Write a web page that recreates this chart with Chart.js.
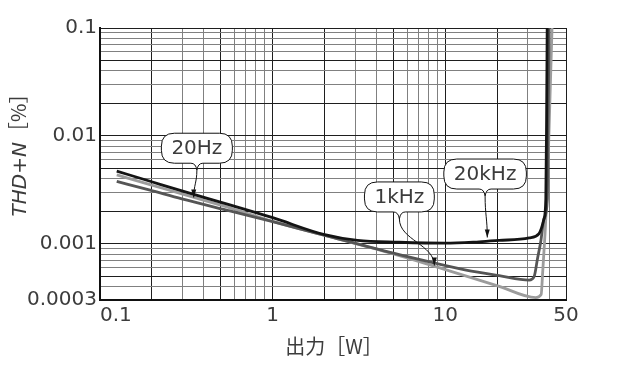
<!DOCTYPE html>
<html lang="ja">
<head>
<meta charset="UTF-8">
<title>THD+N vs 出力</title>
<script src="https://cdn.jsdelivr.net/npm/chart.js"></script>
<style>
  html, body { margin: 0; padding: 0; background: #fff; }
  #wrap { width: 619px; height: 366px; position: relative; }
</style>
</head>
<body>
<div id="wrap"><canvas id="thd"></canvas></div>
<script>
// 出力 [W] と THD+N [%]
const power20k = [0.125, 0.195, 0.298, 0.565, 1.0, 2.0, 3.1, 5.4, 10, 15.7, 20.5, 30.6, 34.9, 37.3, 38.2, 38.6, 38.9];
const thd20k   = [0.00471, 0.00379, 0.00308, 0.00229, 0.00174, 0.00121, 0.00107, 0.00103, 0.00101, 0.00104, 0.00107, 0.00113, 0.00124, 0.0017, 0.0026, 0.0142, 0.1];

const power1k = [0.125, 0.195, 0.298, 0.565, 1.0, 2.14, 5.41, 8.41, 13.2, 20.5, 30.6, 32.7, 34.2, 35.7, 37.3, 39.0, 39.4, 39.9];
const thd1k   = [0.00378, 0.00313, 0.0026, 0.00201, 0.0016, 0.00116, 0.00079, 0.000668, 0.000567, 0.000504, 0.000459, 0.000496, 0.000727, 0.00104, 0.0017, 0.0026, 0.0142, 0.1];

const power20 = [0.125, 0.195, 0.298, 0.565, 1.0, 2.14, 5.41, 10, 20.5, 33.4, 35.9, 36.6, 37.8, 39.1, 40.2, 41.5];
const thd20   = [0.00435, 0.00353, 0.00289, 0.00215, 0.00161, 0.00116, 0.000775, 0.000574, 0.000402, 0.000316, 0.000337, 0.000529, 0.00124, 0.00397, 0.01755, 0.1];

// grid lines and labelled ticks
const xTicks = [0.1, 0.2, 0.3, 0.4, 0.5, 0.6, 0.7, 0.8, 0.9, 1, 2, 3, 4, 5, 6, 7, 8, 9, 10, 20, 30, 40, 50];
const xLabels = [0.1, 1, 10, 50];
const yTicks = [0.0003, 0.0004, 0.0005, 0.0006, 0.0007, 0.0008, 0.0009,
                0.001, 0.002, 0.003, 0.004, 0.005, 0.006, 0.007, 0.008, 0.009,
                0.01, 0.02, 0.03, 0.04, 0.05, 0.06, 0.07, 0.08, 0.09, 0.1];
const yLabels = [0.1, 0.01, 0.001, 0.0003];

// callouts: bubble centre and arrow tip, in data units
const callouts = [
  { text: '20Hz', box: [0.364, 0.00767], tip: [0.349, 0.00268] },
  { text: '1kHz', box: [5.42, 0.00271], tip: [8.64, 0.000627] },
  { text: '20kHz', box: [17.0, 0.00442], tip: [17.5, 0.00114] }
];

const FONT = "'DejaVu Sans', sans-serif";
const INK = '#3c3c3c';

function gridColor(v) {
  const m = Math.round(v / Math.pow(10, Math.floor(Math.log10(v) + 1e-9)));
  return [1, 2, 5].includes(m) ? '#1e1e1e' : '#808080';
}

const toPoints = (xs, ys) => xs.map((x, i) => ({ x, y: ys[i] }));

const overlay = {
  id: 'overlay',
  afterDatasetsDraw(chart) {
    const { ctx, scales: { x, y } } = chart;
    ctx.save();
    ctx.font = '20px ' + FONT;
    ctx.textBaseline = 'middle';
    ctx.lineWidth = 1;
    ctx.strokeStyle = '#111';
    callouts.forEach(c => {
      const cx = x.getPixelForValue(c.box[0]);
      const cy = y.getPixelForValue(c.box[1]);
      const tx = x.getPixelForValue(c.tip[0]);
      const ty = y.getPixelForValue(c.tip[1]);
      const w = ctx.measureText(c.text).width + 20;
      const h = 30, r = 13;
      const l = cx - w / 2, t = cy - h / 2, rt = cx + w / 2, b = cy + h / 2;
      // bubble with a small spike at the bottom
      ctx.beginPath();
      ctx.moveTo(l + r, t);
      ctx.lineTo(rt - r, t);
      ctx.quadraticCurveTo(rt, t, rt, t + r);
      ctx.lineTo(rt, b - r);
      ctx.quadraticCurveTo(rt, b, rt - r, b);
      ctx.lineTo(cx + 6, b);
      ctx.quadraticCurveTo(cx + 1, b, cx, b + 7);
      ctx.quadraticCurveTo(cx - 1, b, cx - 6, b);
      ctx.lineTo(l + r, b);
      ctx.quadraticCurveTo(l, b, l, b - r);
      ctx.lineTo(l, t + r);
      ctx.quadraticCurveTo(l, t, l + r, t);
      ctx.closePath();
      ctx.fillStyle = '#fff';
      ctx.fill();
      ctx.stroke();
      ctx.fillStyle = INK;
      ctx.textAlign = 'center';
      ctx.fillText(c.text, cx, cy + 1);
      // leader line
      const sy = b + 7, dy = ty - sy;
      const c2x = tx, c2y = ty - dy * 0.45;
      ctx.beginPath();
      ctx.moveTo(cx, sy);
      ctx.bezierCurveTo(cx, sy + dy * 0.45, c2x, c2y, tx, ty);
      ctx.stroke();
      // arrow head
      const ang = Math.atan2(ty - c2y, tx - c2x);
      ctx.beginPath();
      ctx.moveTo(tx, ty);
      ctx.lineTo(tx - 8 * Math.cos(ang) + 2.5 * Math.sin(ang), ty - 8 * Math.sin(ang) - 2.5 * Math.cos(ang));
      ctx.lineTo(tx - 8 * Math.cos(ang) - 2.5 * Math.sin(ang), ty - 8 * Math.sin(ang) + 2.5 * Math.cos(ang));
      ctx.closePath();
      ctx.fillStyle = '#111';
      ctx.fill();
    });
    ctx.restore();
  },
  afterDraw(chart) {
    const { ctx, scales: { x }, chartArea } = chart;
    ctx.save();
    ctx.fillStyle = INK;
    ctx.textBaseline = 'middle';
    // x tick labels, the first one starts at the axis
    ctx.font = '20px ' + FONT;
    xLabels.forEach((v, i) => {
      ctx.textAlign = i === 0 ? 'left' : 'center';
      ctx.fillText(String(v), x.getPixelForValue(v), chartArea.bottom + 16);
    });
    // x title
    ctx.textAlign = 'center';
    ctx.font = "20px 'Noto Sans CJK JP', sans-serif";
    ctx.fillText('出力［W］', (chartArea.left + chartArea.right) / 2 + 1, chartArea.bottom + 46);
    // y title, THD and N in italics
    const parts = [
      ['THD', 'italic 20px ' + FONT],
      ['+', '20px ' + FONT],
      ['N', 'italic 20px ' + FONT],
      ['［%］', "20px 'Noto Sans CJK JP', sans-serif"]
    ];
    let total = 0;
    parts.forEach(p => { ctx.font = p[1]; total += ctx.measureText(p[0]).width; });
    ctx.translate(26, 150);
    ctx.rotate(-Math.PI / 2);
    ctx.textAlign = 'left';
    ctx.textBaseline = 'alphabetic';
    let pen = -total / 2;
    parts.forEach(p => {
      ctx.font = p[1];
      ctx.fillText(p[0], pen, 0);
      pen += ctx.measureText(p[0]).width;
    });
    ctx.restore();
  }
};

new Chart(document.getElementById('thd'), {
  type: 'line',
  data: {
    datasets: [
      { label: '20kHz', data: toPoints(power20k, thd20k), borderColor: '#141414' },
      { label: '1kHz', data: toPoints(power1k, thd1k), borderColor: '#555' },
      { label: '20Hz', data: toPoints(power20, thd20), borderColor: '#9c9c9c' }
    ]
  },
  options: {
    responsive: true,
    maintainAspectRatio: false,
    animation: false,
    layout: { padding: { top: 28, right: 53, left: 0, bottom: 0 } },
    elements: {
      line: { borderWidth: 2.8, cubicInterpolationMode: 'monotone', fill: false },
      point: { radius: 0 }
    },
    plugins: { legend: { display: false }, tooltip: { enabled: false } },
    scales: {
      x: {
        type: 'logarithmic',
        min: 0.1,
        max: 50,
        afterBuildTicks: s => { s.ticks = xTicks.map(v => ({ value: v })); },
        afterFit: s => { s.height = 66; },
        ticks: { display: false },
        grid: { color: c => gridColor(c.tick.value), lineWidth: 1, drawTicks: false },
        border: { color: '#111', width: 2 }
      },
      y: {
        type: 'logarithmic',
        min: 0.0003,
        max: 0.1,
        afterBuildTicks: s => { s.ticks = yTicks.map(v => ({ value: v })); },
        afterFit: s => { s.width = 100; },
        ticks: {
          autoSkip: false,
          padding: 3,
          color: INK,
          font: { family: FONT, size: 20 },
          callback: v => yLabels.includes(v) ? String(v) : ''
        },
        grid: { color: c => gridColor(c.tick.value), lineWidth: 1, drawTicks: false },
        border: { color: '#111', width: 2 }
      }
    }
  },
  plugins: [overlay]
});
</script>
</body>
</html>
